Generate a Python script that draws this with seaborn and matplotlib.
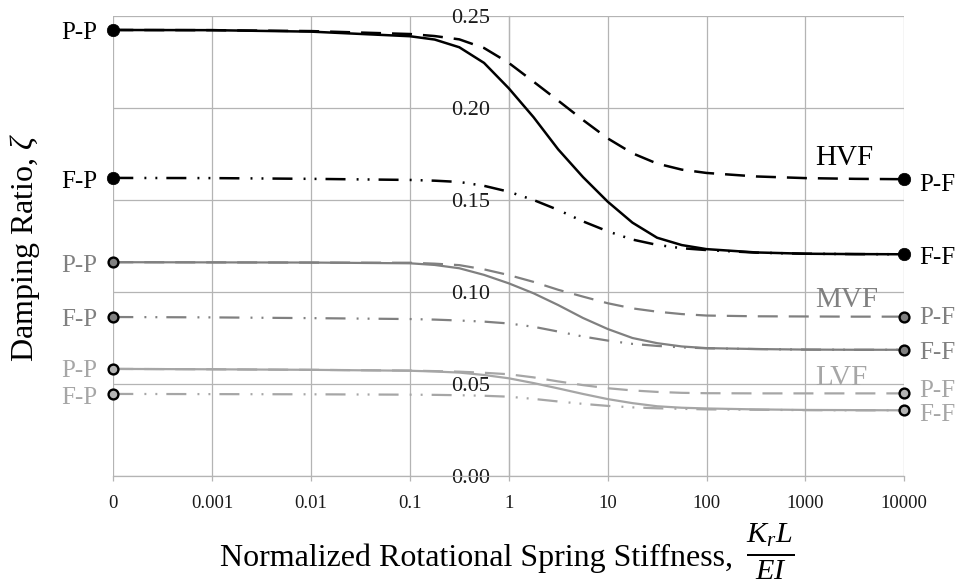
import numpy as np
import pandas as pd
import matplotlib
matplotlib.use("Agg")
import matplotlib.pyplot as plt
import seaborn as sns
from matplotlib.ticker import FixedLocator, NullLocator, FixedFormatter

# ---------------- data ----------------
x_vals = [0.0001, 0.001, 0.01, 0.1, 0.178, 0.316, 0.562, 1, 1.78, 3.16,
          5.62, 10, 17.8, 31.6, 56.2, 100, 316, 1000, 3162, 10000]

# HVF
hvf_solid = [0.2424, 0.2423, 0.2415, 0.2390, 0.2372, 0.2330, 0.2245, 0.2107, 0.1950,
             0.1775, 0.1625, 0.1491, 0.1377, 0.1295, 0.1255, 0.1233, 0.1215, 0.1208, 0.1206, 0.1205]
hvf_dashed = [0.2424, 0.2423, 0.2418, 0.2402, 0.2391, 0.2373, 0.2326, 0.2245, 0.2143,
              0.2040, 0.1935, 0.1835, 0.1754, 0.1698, 0.1665, 0.1647, 0.1628, 0.1619, 0.1615, 0.1613]
hvf_dashdot = [0.1620, 0.1619, 0.1615, 0.1609, 0.1605, 0.1598, 0.1577, 0.1545, 0.1500,
               0.1446, 0.1384, 0.1330, 0.1285, 0.1256, 0.1238, 0.1228, 0.1214, 0.1208, 0.1206, 0.1205]
# MVF
mvf_solid = [0.1162, 0.1161, 0.1160, 0.1156, 0.1147, 0.1129, 0.1093, 0.1047, 0.0993,
             0.0929, 0.0859, 0.0799, 0.0750, 0.0722, 0.0704, 0.0695, 0.0690, 0.0687, 0.0686, 0.0686]
mvf_dashed = [0.1162, 0.1161, 0.1160, 0.1159, 0.1154, 0.1146, 0.1123, 0.1092, 0.1055,
              0.1012, 0.0975, 0.0939, 0.0911, 0.0893, 0.0880, 0.0872, 0.0868, 0.0867, 0.0866, 0.0866]
mvf_dashdot = [0.0864, 0.0862, 0.0858, 0.0853, 0.0850, 0.0845, 0.0839, 0.0829, 0.0811,
               0.0785, 0.0758, 0.0736, 0.0718, 0.0707, 0.0699, 0.0694, 0.0690, 0.0687, 0.0686, 0.0686]
# LVF
lvf_solid = [0.0582, 0.0580, 0.0577, 0.0572, 0.0568, 0.0562, 0.0549, 0.0531, 0.0505,
             0.0476, 0.0446, 0.0418, 0.0396, 0.0379, 0.0371, 0.0367, 0.0362, 0.0359, 0.0358, 0.0357]
lvf_dashed = [0.0582, 0.0580, 0.0577, 0.0573, 0.0570, 0.0567, 0.0561, 0.0553, 0.0536,
              0.0514, 0.0494, 0.0477, 0.0465, 0.0457, 0.0452, 0.0450, 0.0449, 0.0449, 0.0449, 0.0449]
lvf_dashdot = [0.0446, 0.0445, 0.0444, 0.0442, 0.0441, 0.0439, 0.0436, 0.0431, 0.0419,
               0.0405, 0.0392, 0.0381, 0.0373, 0.0368, 0.0365, 0.0362, 0.0360, 0.0358, 0.0357, 0.0357]

group_names = ["HVF", "MVF", "LVF"]
x_tick_values = [0.0001, 0.001, 0.01, 0.1, 1, 10, 100, 1000, 10000]
x_tick_labels = ["0", "0.001", "0.01", "0.1", "1", "10", "100", "1000", "10000"]
y_tick_values = [0.00, 0.05, 0.10, 0.15, 0.20, 0.25]
end_labels_left = ["P-P", "F-P"]
end_labels_right = ["P-F", "F-F"]

# ---------------- style ----------------
sns.set_style("white")
plt.rcParams["font.family"] = ["Liberation Serif", "DejaVu Serif"]
plt.rcParams["mathtext.fontset"] = "custom"
plt.rcParams["mathtext.rm"] = "Liberation Serif"
plt.rcParams["mathtext.it"] = "Liberation Serif:italic"
plt.rcParams["lines.scale_dashes"] = False

fig = plt.figure(figsize=(9.58, 5.85), dpi=100)
ax = fig.add_axes([113.3 / 958, 1 - 476 / 585, (904.3 - 113.3) / 958, (476 - 16) / 585])

grid_col = "#b4b4b4"
dashed_ls = (0, (14.4, 7.9))
dashdot_ls = (0, (14.4, 8.0, 1.4, 6.5, 1.4, 6.5))

styles = {
    "HVF": dict(line="#000000", face="#000000", text="#000000", lw=1.8, z=6),
    "MVF": dict(line="#808080", face="#808080", text="#808080", lw=1.6, z=5),
    "LVF": dict(line="#a6a6a6", face="#b4b4b4", text="#a6a6a6", lw=1.6, z=4),
}
series = {
    "HVF": (hvf_solid, hvf_dashed, hvf_dashdot),
    "MVF": (mvf_solid, mvf_dashed, mvf_dashdot),
    "LVF": (lvf_solid, lvf_dashed, lvf_dashdot),
}
label_pos = {"HVF": 0.169, "MVF": 0.092, "LVF": 0.0495}
# baseline drop below marker centre, in pixels: (left top, left bottom, right top, right bottom)
label_drop_px = {"HVF": (9.5, 10.3, 11.4, 10.0),
                 "MVF": (10.0, 9.3, 7.3, 9.3),
                 "LVF": (7.7, 10.0, 4.0, 11.0)}

for g in group_names:
    st = styles[g]
    solid, dashed, dashdot = series[g]
    df = pd.DataFrame({"x": x_vals, "solid": solid, "dashed": dashed, "dashdot": dashdot})
    sns.lineplot(data=df, x="x", y="dashed", ax=ax, color=st["line"], lw=st["lw"],
                 linestyle=dashed_ls, zorder=st["z"])
    sns.lineplot(data=df, x="x", y="dashdot", ax=ax, color=st["line"], lw=st["lw"],
                 linestyle=dashdot_ls, zorder=st["z"])
    sns.lineplot(data=df, x="x", y="solid", ax=ax, color=st["line"], lw=st["lw"],
                 linestyle="-", zorder=st["z"] + 0.1)

    # end markers
    mx = [x_vals[0], x_vals[0], x_vals[-1], x_vals[-1]]
    my = [solid[0], dashdot[0], dashed[-1], solid[-1]]
    if g == "HVF":
        sns.scatterplot(x=mx, y=my, ax=ax, s=80, color=st["face"], edgecolor="black",
                        linewidth=0.5, clip_on=False, zorder=10)
    else:
        sns.scatterplot(x=mx, y=my, ax=ax, s=50, color=st["face"], edgecolor="black",
                        linewidth=1.7, clip_on=False, zorder=10)

    # end labels
    drops = label_drop_px[g]
    items = [(end_labels_left[0], x_vals[0], solid[0], "l", drops[0]),
             (end_labels_left[1], x_vals[0], dashdot[0], "l", drops[1]),
             (end_labels_right[0], x_vals[-1], dashed[-1], "r", drops[2]),
             (end_labels_right[1], x_vals[-1], solid[-1], "r", drops[3])]
    for txt, xx, yy, side, drop in items:
        ax.annotate(txt, xy=(xx, yy),
                    xytext=(-11.5 if side == "l" else 10.8, -drop * 0.72),
                    textcoords="offset points", ha="right" if side == "l" else "left",
                    va="baseline", fontsize=18, color=st["text"], annotation_clip=False)

    ax.text(1245, label_pos[g], g, fontsize=21, color=st["text"], ha="left",
            va="baseline", zorder=3)

# ---------------- axes ----------------
ax.set_xscale("log")
ax.set_xlim(1e-4, 1e4)
ax.set_ylim(0, 0.25)
ax.xaxis.set_major_locator(FixedLocator(x_tick_values))
ax.xaxis.set_major_formatter(FixedFormatter(x_tick_labels))
ax.xaxis.set_minor_locator(NullLocator())
ax.set_yticks(y_tick_values)
ax.set_yticklabels([f"{v:.2f}" for v in y_tick_values])

ax.grid(True, which="major", color=grid_col, lw=0.9)
ax.set_axisbelow(True)
for s in ["top", "right"]:
    ax.spines[s].set_visible(False)
ax.spines["left"].set_position(("data", 1))
ax.spines["left"].set_color(grid_col)
ax.spines["left"].set_linewidth(0.9)
ax.spines["bottom"].set_color(grid_col)
ax.spines["bottom"].set_linewidth(0.9)

ax.tick_params(axis="x", which="major", direction="out", length=3.8, width=0.9,
               color=grid_col, labelsize=13.5, labelcolor="#1a1a1a", pad=10, bottom=True)
ax.tick_params(axis="y", which="major", length=0, labelsize=16, labelcolor="#1a1a1a",
               pad=13.5, left=True)
ax.set_xlabel("")
ax.set_ylabel("")

fig.text(220 / 958, 1 - 566 / 585, "Normalized Rotational Spring Stiffness,",
         ha="left", va="baseline", fontsize=23, color="black")
fig.text(746 / 958, 1 - 566 / 585, r"$\frac{K_r L}{EI}$",
         ha="left", va="baseline", fontsize=31, color="black")
fig.text(25 / 958, 1 - 247 / 585, r"Damping Ratio, $\zeta$", rotation=90,
         ha="center", va="center", fontsize=23, color="black")

fig.savefig("out.png", dpi=100)
